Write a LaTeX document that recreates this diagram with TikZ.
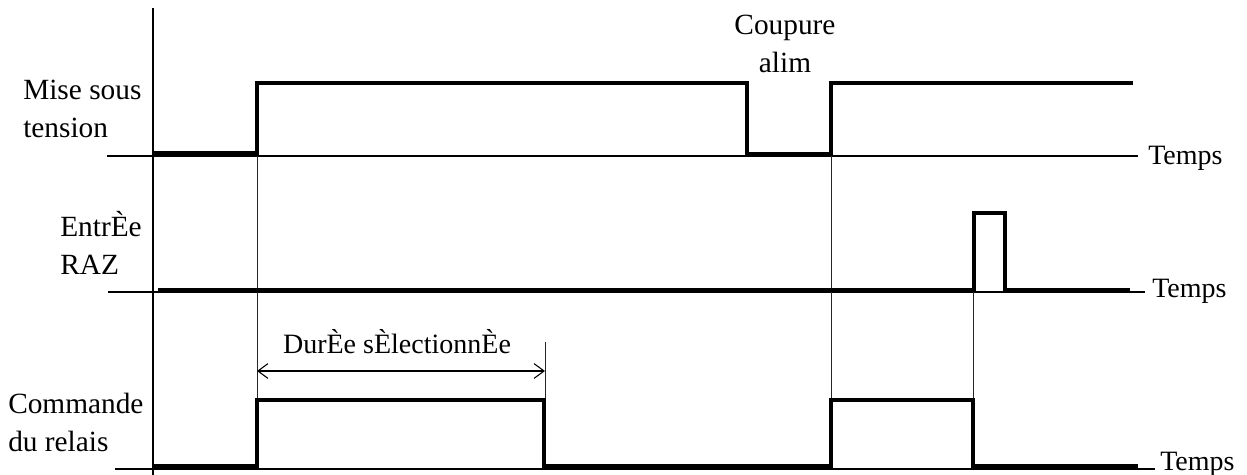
\documentclass[tikz,border=0pt]{standalone}
\usepackage{fontspec}
\setmainfont{Liberation Serif}
\usetikzlibrary{arrows.meta}

\tikzset{
  axe/.style={line width=1.5pt},
  signal/.style={line width=3pt, line join=miter, line cap=butt},
  repere/.style={line width=0.6pt, black!85},
  libelle/.style={inner sep=0pt, align=left, font=\fontsize{22}{28}\selectfont},
  temps/.style={inner sep=0pt, anchor=base west, font=\fontsize{21}{25}\selectfont},
}

\begin{document}
\begin{tikzpicture}[x=0.75pt,y=0.75pt,yscale=-1,xscale=1]
\useasboundingbox (0,0) rectangle (1247,475);

%Axe vertical
\draw [axe] (153,8) -- (153,475) ;

%Axes des temps
\draw [axe] (107,156) -- (1138,156) ;
\draw [axe] (108,292) -- (1145,292) ;
\draw [axe] (115,469) -- (1155,469) ;

%Reperes verticaux
\draw [repere] (257,156) -- (257,399) ;
\draw [repere] (831,156) -- (831,399) ;
\draw [repere] (973,292) -- (973,399) ;
\draw [repere] (545,342) -- (545,399) ;

%Mise sous tension
\draw [signal] (153,153) -- (257,153) -- (257,83) -- (747,83) -- (747,154) -- (831,154) -- (831,83) -- (1133,83) ;
%Entree RAZ
\draw [signal] (158,290) -- (974,290) -- (974,213) -- (1005,213) -- (1005,290) -- (1130,290) ;
%Commande du relais
\draw [signal] (153,466) -- (257,466) -- (257,400) -- (544,400) -- (544,466) -- (831,466) -- (831,400) -- (973,400) -- (973,466) -- (1138,466) ;

%Duree selectionnee
\coordinate (debut) at (257,371) ;
\coordinate (fin) at (545,371) ;
\draw [line width=0.8pt, {Straight Barb[length=7.5pt,width=11pt]}-{Straight Barb[length=7.5pt,width=11pt]}] (debut) -- (fin) ;
\node (duree) [inner sep=0pt, anchor=base, font=\fontsize{21}{25}\selectfont] at (397,353) {DurÈe sÈlectionnÈe};

% Text Node
\node (mise) [libelle, anchor=base west] at (23,137) {Mise sous\\tension};
% Text Node
\node (coupure) [libelle, align=center, anchor=base] at (785,72) {Coupure\\alim};
% Text Node
\node (raz) [libelle, anchor=base west] at (60,274) {EntrÈe\\RAZ};
% Text Node
\node (commande) [libelle, anchor=base west] at (8,451) {Commande\\du relais};

% Text Node
\node (temps1) [temps] at (1148,164) {Temps};
\node (temps2) [temps] at (1152,297) {Temps};
\node (temps3) [temps] at (1160,470) {Temps};

\end{tikzpicture}
\end{document}
